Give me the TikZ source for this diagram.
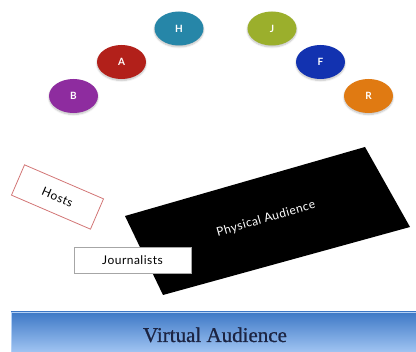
\documentclass[tikz,border=0pt]{standalone}
\usepackage{fontspec}
\newfontfamily\gillfont[LetterSpace=4]{Lato}
\newfontfamily\vserif[FakeBold=0.8]{Liberation Serif}
\usetikzlibrary{shapes.geometric,shadows.blur}
\definecolor{cB}{HTML}{8E2C9F}
\definecolor{cA}{HTML}{B2201A}
\definecolor{cH}{HTML}{2686A8}
\definecolor{cJ}{HTML}{9BAF2C}
\definecolor{cF}{HTML}{1232B0}
\definecolor{cR}{HTML}{E07A12}
\definecolor{hostline}{HTML}{D27575}
\definecolor{bartop}{HTML}{3D78C6}
\definecolor{barbot}{HTML}{A0C4F2}
\definecolor{bartext}{HTML}{1C2442}
\tikzset{
  person/.style={ellipse, minimum width=49pt, minimum height=34pt, inner sep=0pt,
    text=white, font=\gillfont\bfseries\fontsize{10}{11}\selectfont,
    blur shadow={shadow xshift=0pt, shadow yshift=-1.5pt, shadow blur steps=6, shadow opacity=25}},
  labelbox/.style={rectangle, inner sep=0pt, font=\gillfont\fontsize{12}{14}\selectfont}
}
\begin{document}
\begin{tikzpicture}[x=1pt,y=-1pt]
\useasboundingbox (0,0) rectangle (416,352);
% seats
\node[person, fill=cB] (B) at (73.5,96) {B};
\node[person, fill=cA] (A) at (121.5,62) {A};
\node[person, fill=cH] (H) at (179,28.5) {H};
\node[person, fill=cJ] (J) at (272,28.5) {J};
\node[person, fill=cF] (F) at (320.5,62) {F};
\node[person, fill=cR] (R) at (368.5,96) {R};
% hosts
\node[labelbox, draw=hostline, line width=0.8pt, minimum width=86pt, minimum height=33pt, rotate=-23.3] (hosts) at (57.5,197) {Hosts};
% physical audience (slanted black block)
\coordinate (pTL) at (125,216);
\coordinate (pTR) at (365,147);
\coordinate (pBR) at (410,227);
\coordinate (pBL) at (163,295);
\fill[black] (pTL) -- (pTR) -- (pBR) -- (pBL) -- cycle;
\node[labelbox, text=white, rotate=16] (phys) at (266,219) {Physical Audience};
% journalists
\node[labelbox, draw=gray!70, fill=white, line width=0.6pt, minimum width=117pt, minimum height=26pt] (jour) at (132.5,260) {Journalists};
% virtual audience
\node[rectangle, inner sep=0pt, top color=bartop, bottom color=barbot, draw=barbot!80!white, line width=0.5pt,
  minimum width=405pt, minimum height=40pt] (virt) at (213.5,332) {};
\node[inner sep=0pt, text=bartext, font=\vserif\fontsize{21}{24}\selectfont, anchor=base] (virtlabel) at (215,342) {Virtual Audience};
\end{tikzpicture}
\end{document}
